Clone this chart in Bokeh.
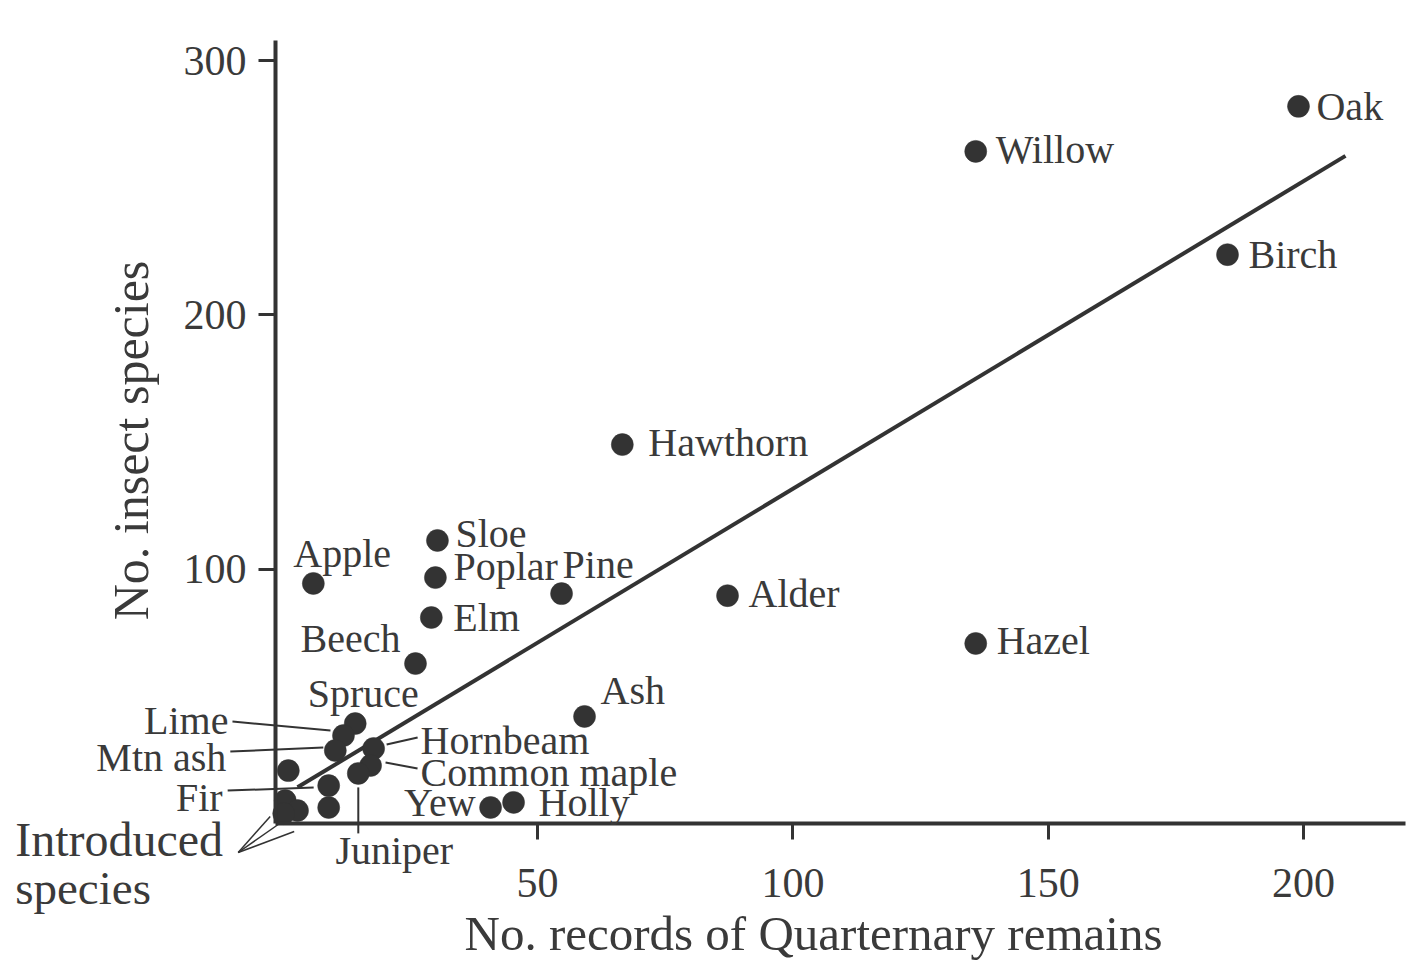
import math
from bokeh.plotting import figure
from bokeh.models import Range1d, FixedTicker, ColumnDataSource, LabelSet, Label
from bokeh.core.properties import value
from bokeh.embed import file_html
from bokeh.resources import INLINE

# ---------------- data ----------------
names = ["Oak", "Willow", "Birch", "Hawthorn", "Alder", "Hazel", "Ash", "Pine",
         "Sloe", "Poplar", "Elm", "Apple", "Beech", "Spruce", "Lime", "Mtn ash",
         "Hornbeam", "Common maple", "Juniper", "Fir", "Yew", "Holly"]
records = [199.0, 135.8, 185.1, 66.6, 87.2, 135.8, 59.2, 54.7,
           30.4, 30.0, 29.2, 6.1, 26.1, 14.3, 12.0, 10.4,
           17.9, 17.3, 14.9, 9.1, 40.8, 45.3]
insects = [282.0, 264.3, 223.7, 149.0, 89.6, 70.8, 42.1, 90.4,
           111.3, 96.7, 81.0, 94.4, 62.9, 39.3, 34.6, 28.7,
           29.5, 22.8, 19.7, 14.9, 6.3, 8.3]

# unlabelled points (introduced species cluster and one more)
other_records = [9.1, 1.2, 0.6, 3.0, 0.3]
other_insects = [6.3, 20.8, 9.0, 5.1, 3.9]

# fitted regression line
fit_x = [3.0, 208.2]
fit_intercept = 10.6
fit_slope = 1.21

x_ticks = [50, 100, 150, 200]
y_ticks = [100, 200, 300]

x_title = "No. records of Quarternary remains"
y_title = "No. insect species"
intro_lines = ["Introduced", "species"]

# ---------------- layout / style ----------------
W, H = 1408, 962
PX0, KX = 281.7, 5.107      # page x of record 0, px per record
PY0, KY = 823.0, 2.543      # page y of 0 insects, px per insect species
X0, X1 = -PX0 / KX, (W - PX0) / KX
Y0, Y1 = (PY0 - H) / KY, PY0 / KY
AXIS_X = -1.31              # where the y axis stands
Y_TOP = 307.9               # top end of the y axis
X_RIGHT = 220.0             # right end of the x axis

INK = "#333333"
TXT = "#3a3a3a"
FONT = "Liberation Serif"


def off(x, y, dx, dy):
    """shift a data point by screen pixels (dy positive downward)"""
    return x + dx / KX, y - dy / KY


# label placement: name -> (dx px, dy px, align)
label_layout = {
    "Oak": (18, 0, "left"), "Willow": (20, -2, "left"), "Birch": (21, 0, "left"),
    "Hawthorn": (26, -2, "left"), "Alder": (21, -2, "left"), "Hazel": (21, -3, "left"),
    "Ash": (16, -26, "left"), "Pine": (1, -29, "left"), "Sloe": (18, -7, "left"),
    "Poplar": (18, -11, "left"), "Elm": (22, 0, "left"), "Apple": (-20, -30, "left"),
    "Beech": (-15, -25, "right"), "Spruce": (8, -30, "center"),
    "Lime": (-115, -15, "right"), "Mtn ash": (-109, 7, "right"), "Fir": (-106, 12, "right"),
    "Hornbeam": (47, -8, "left"), "Common maple": (50, 7, "left"),
    "Juniper": (36, 77, "center"), "Yew": (-15, -5, "right"), "Holly": (25, 0, "left"),
}
# leader lines: name -> ((dx1, dy1), (dx2, dy2)) in px relative to the point
leaders = {
    "Lime": ((-111, -14), (-13, -5)),
    "Mtn ash": ((-105, 1), (-12, -3)),
    "Fir": ((-101, 5), (-15, 2)),
    "Hornbeam": ((13, -4), (44, -11)),
    "Common maple": ((15, -3), (47, 3)),
    "Juniper": ((0, 14), (0, 60)),
}

p = figure(width=W, height=H, output_backend="svg", toolbar_location=None,
           x_range=Range1d(X0, X1), y_range=Range1d(Y0, Y1),
           min_border=0)
p.outline_line_color = None
p.grid.visible = False
p.background_fill_color = "white"
p.border_fill_color = "white"

for ax in (p.xaxis, p.yaxis):
    ax.axis_line_color = INK
    ax.axis_line_width = 4
    ax.major_tick_line_color = INK
    ax.major_tick_line_width = 3
    ax.major_tick_in = 0
    ax.minor_tick_line_color = None
    ax.major_label_text_font = FONT
    ax.major_label_text_font_size = "42px"
    ax.major_label_text_color = TXT

p.xaxis.ticker = FixedTicker(ticks=x_ticks)
p.yaxis.ticker = FixedTicker(ticks=y_ticks)
p.xaxis.fixed_location = 0
p.yaxis.fixed_location = AXIS_X
p.xaxis.bounds = (AXIS_X, X_RIGHT)
p.yaxis.bounds = (0, Y_TOP)
p.xaxis.major_tick_out = 16
p.yaxis.major_tick_out = 17
p.xaxis.major_label_standoff = 29
p.yaxis.major_label_standoff = 12

# axis titles
tx, ty = off(0, 0, 813 - PX0, 933 - PY0)
p.add_layout(Label(x=tx, y=ty, text=x_title, text_font=FONT, text_font_size="49px",
                   text_color=TXT, text_align="center", text_baseline="middle"))
tx, ty = off(0, 0, 130 - PX0, 440 - PY0)
p.add_layout(Label(x=tx, y=ty, text=y_title, text_font=FONT, text_font_size="50px",
                   text_color=TXT, text_align="center", text_baseline="middle",
                   angle=math.pi / 2))

# regression line
fit_y = [fit_intercept + fit_slope * v for v in fit_x]
p.line(fit_x, fit_y, line_color=INK, line_width=4)

# leader lines
lookup = {n: (x, y) for n, x, y in zip(names, records, insects)}
x0s, y0s, x1s, y1s = [], [], [], []
for n, ((a1, b1), (a2, b2)) in leaders.items():
    x, y = lookup[n]
    xa, ya = off(x, y, a1, b1)
    xb, yb = off(x, y, a2, b2)
    x0s.append(xa); y0s.append(ya); x1s.append(xb); y1s.append(yb)
p.segment(x0s, y0s, x1s, y1s, line_color=INK, line_width=2)

# "Introduced species" arrows, anchored at the origin
apex = (-44, 29)
ix0, iy0, ix1, iy1 = [], [], [], []
for end in [(-12, -7), (-4, 1), (12, 8)]:
    xa, ya = off(0, 0, *apex)
    xb, yb = off(0, 0, *end)
    ix0.append(xa); iy0.append(ya); ix1.append(xb); iy1.append(yb)
p.segment(ix0, iy0, ix1, iy1, line_color=INK, line_width=1.5)

# points
p.scatter(other_records, other_insects, size=22, fill_color=INK, line_color=INK,
          line_width=0.5)
p.scatter(records, insects, size=22, fill_color=INK, line_color=INK, line_width=0.5)

# labels
for align in ("left", "right", "center"):
    xs, ys, ts = [], [], []
    for n, x, y in zip(names, records, insects):
        dx, dy, a = label_layout[n]
        if a != align:
            continue
        lx, ly = off(x, y, dx, dy)
        xs.append(lx); ys.append(ly); ts.append(n)
    src = ColumnDataSource(dict(x=xs, y=ys, t=ts))
    p.add_layout(LabelSet(x="x", y="y", text="t", source=src,
                          text_font=value(FONT), text_font_size=value("40px"),
                          text_color=TXT, text_align=align,
                          text_baseline="middle"))

for i, (t, fs) in enumerate(zip(intro_lines, ["48px", "47px"])):
    lx, ly = off(0, 0, -267, 16 + 48 * i)
    p.add_layout(Label(x=lx, y=ly, text=t, text_font=FONT, text_font_size=fs,
                       text_color=TXT, text_align="left", text_baseline="middle"))

open("out.html", "w").write(file_html(p, INLINE))
